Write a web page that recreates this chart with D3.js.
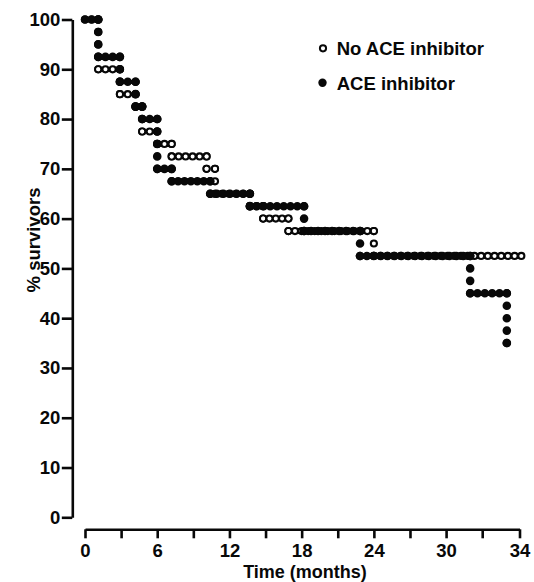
<!DOCTYPE html>
<html><head><meta charset="utf-8">
<script src="https://cdn.jsdelivr.net/npm/d3@7"></script>
<style>body{margin:0;background:#fff}</style>
</head><body>
<svg id="c" width="534" height="582"></svg>
<script>
// ---- data ----
const seriesNames = ["No ACE inhibitor", "ACE inhibitor"];
// step-curve change points: time (months) and % survivors after the change
const noAceTimes = [0, 1.1, 2.9, 4.2, 4.75, 6.0, 7.2, 10.1, 10.8, 13.7, 14.8, 16.9, 24.0];
const noAceSurv  = [100, 90, 85, 82.5, 77.5, 75, 72.5, 70, 65, 62.5, 60, 57.5, 52.5];
const noAceEnd   = 34.05;
const aceTimes   = [0, 1.1, 2.9, 4.2, 4.75, 6.0, 7.2, 10.4, 13.7, 18.2, 22.85, 32.0, 33.66];
const aceSurv    = [100, 92.5, 87.5, 82.5, 80, 70, 67.5, 65, 62.5, 57.5, 52.5, 45, 35];
const aceEnd     = 33.66;
const stepUnit = 2.5;          // one patient = 2.5 %
const yTicks = [0, 10, 20, 30, 40, 50, 60, 70, 80, 90, 100];
const xTicks = [0, 3, 6, 9, 12, 15, 18, 21, 24, 27, 30, 33, 34];
const xLabelled = [0, 6, 12, 18, 24, 30, 34];

// ---- layout ----
const FONT = "'Liberation Sans', Arial, sans-serif";
const INK = "#080808";
const svg = d3.select("#c");
const x = d3.scaleLinear().domain([0, 33, 34]).range([85, 482.2, 519.5]);
const y = d3.scaleLinear().domain([0, 100]).range([517.3, 19.5]);

// y axis
const gy = svg.append("g").attr("transform", "translate(72.3,0)")
  .call(d3.axisLeft(y).tickValues(yTicks).tickSize(10.5).tickSizeOuter(0).tickPadding(1.5));
// x axis
const gx = svg.append("g").attr("transform", "translate(0,529.3)")
  .call(d3.axisBottom(x).tickValues(xTicks).tickSize(9).tickSizeOuter(0).tickPadding(6)
    .tickFormat(d => xLabelled.includes(d) ? String(d) : ""));
[gx, gy].forEach(g => {
  g.select(".domain").attr("stroke", INK).attr("stroke-width", 2.6);
  g.selectAll(".tick line").attr("stroke", INK).attr("stroke-width", 2.6);
  g.selectAll("text").attr("fill", INK).style("font-family", FONT)
    .style("font-size", "18.5px").style("font-weight", "bold");
});

// axis titles
svg.append("text").attr("x", 305).attr("y", 577.5).attr("text-anchor", "middle")
  .attr("fill", INK).style("font-family", FONT).style("font-size", "18px").style("font-weight", "bold")
  .text("Time (months)");
svg.append("text").attr("transform", "translate(40,240) rotate(-90)").attr("text-anchor", "middle")
  .attr("fill", INK).style("font-family", FONT).style("font-size", "18.5px").style("font-weight", "bold")
  .text("% survivors");

// ---- dotted step curves ----
function segments(times, surv, end) {
  const segs = [];
  for (let i = 0; i < times.length; i++) {
    if (i > 0) {
      const n = Math.round((surv[i - 1] - surv[i]) / stepUnit);
      segs.push({x1: x(times[i]), y1: y(surv[i - 1]), x2: x(times[i]), y2: y(surv[i]), n});
    }
    const tEnd = i + 1 < times.length ? times[i + 1] : end;
    const len = x(tEnd) - x(times[i]);
    segs.push({x1: x(times[i]), y1: y(surv[i]), x2: x(tEnd), y2: y(surv[i]), n: Math.max(1, Math.round(len / 6.8))});
  }
  return segs;
}
function drawDots(g, segs, width, color) {
  g.selectAll(null).data(segs).join("path")
    .attr("d", s => {
      const len = Math.hypot(s.x2 - s.x1, s.y2 - s.y1);
      return len < 0.5 ? `M${s.x1},${s.y1}h0.01` : `M${s.x1},${s.y1}L${s.x2},${s.y2}`;
    })
    .attr("fill", "none").attr("stroke", color).attr("stroke-width", width)
    .attr("stroke-linecap", "round")
    .attr("stroke-dasharray", s => {
      const len = Math.hypot(s.x2 - s.x1, s.y2 - s.y1);
      return len < 0.5 ? null : `0 ${len / s.n - 0.002}`;
    });
}
const noSegs = segments(noAceTimes, noAceSurv, noAceEnd);
const aceSegs = segments(aceTimes, aceSurv, aceEnd);
const gData = svg.append("g");
drawDots(gData.append("g"), noSegs, 8.2, INK);
drawDots(gData.append("g"), noSegs, 4.0, "#fff");
drawDots(gData.append("g"), aceSegs, 8.6, INK);

// ---- legend ----
const leg = svg.append("g");
const legY = [48.3, 82.7];
leg.append("circle").attr("cx", 323).attr("cy", legY[0]).attr("r", 3.1)
  .attr("fill", "#fff").attr("stroke", INK).attr("stroke-width", 2);
leg.append("circle").attr("cx", 322.5).attr("cy", legY[1]).attr("r", 4.2).attr("fill", INK);
leg.selectAll("text").data(seriesNames).join("text")
  .attr("x", 336.7).attr("y", (d, i) => legY[i] + 6.8)
  .attr("fill", INK).style("font-family", FONT).style("font-size", "18.5px").style("font-weight", "bold")
  .text(d => d);
</script>
</body></html>
